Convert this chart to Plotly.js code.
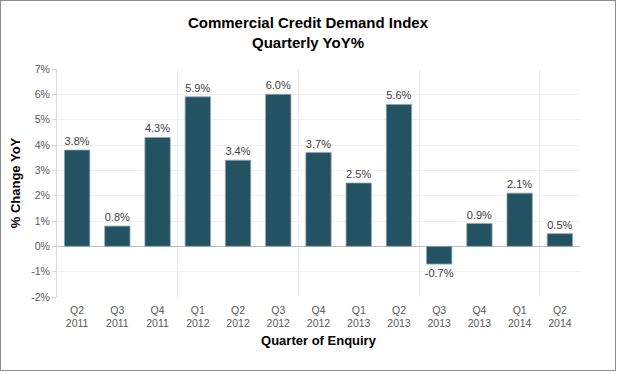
<!DOCTYPE html>
<html>
<head>
<meta charset="utf-8">
<script src="https://cdn.plot.ly/plotly-3.0.1.min.js"></script>
<style>
  html, body { margin: 0; padding: 0; background: #fff; }
  #chart { width: 614px; height: 369px; border: 1px solid #8c8c8c; }
</style>
</head>
<body>
<div id="chart"></div>
<script>
const quarters = ["Q2<br>2011","Q3<br>2011","Q4<br>2011","Q1<br>2012","Q2<br>2012","Q3<br>2012","Q4<br>2012","Q1<br>2013","Q2<br>2013","Q3<br>2013","Q4<br>2013","Q1<br>2014","Q2<br>2014"];
const yoyChange = [3.8, 0.8, 4.3, 5.9, 3.4, 6.0, 3.7, 2.5, 5.6, -0.7, 0.9, 2.1, 0.5];
const yTickVals = [-2, -1, 0, 1, 2, 3, 4, 5, 6, 7];
const yTickText = ["-2%", "-1%", "0%", "1%", "2%", "3%", "4%", "5%", "6%", "7%"];

const FONT = "Liberation Sans, Arial, sans-serif";
const xIndex = quarters.map((q, i) => i);

const trace = {
  type: "bar",
  x: xIndex,
  y: yoyChange,
  marker: { color: "#235263", line: { color: "#8fa7b0", width: 0.8 } },
  text: yoyChange.map(v => v.toFixed(1) + "%"),
  textposition: "outside",
  constraintext: "none",
  textfont: { family: FONT, size: 11, color: "#404040" },
  cliponaxis: false,
  hoverinfo: "y"
};

const layout = {
  width: 614,
  height: 369,
  margin: { l: 56, r: 35, t: 68, b: 73 },
  paper_bgcolor: "#ffffff",
  plot_bgcolor: "#ffffff",
  font: { family: FONT, color: "#595959" },
  showlegend: false,
  bargap: 0.37,
  title: {
    text: "<b>Commercial Credit Demand Index</b><br><b>Quarterly YoY%</b>",
    font: { family: FONT, size: 15, color: "#000000" },
    x: 0.5, xref: "container", xanchor: "center",
    y: 1 - 27 / 369, yref: "container", yanchor: "middle"
  },
  xaxis: {
    type: "linear",
    range: [-0.5, quarters.length - 0.5],
    tickmode: "array",
    tickvals: xIndex,
    ticktext: quarters,
    showgrid: false,
    zeroline: false,
    showline: false,
    ticks: "",
    ticklabelstandoff: 5,
    tickfont: { family: FONT, size: 10.5, color: "#595959" },
    minor: {
      tickmode: "linear",
      tick0: 2.5,
      dtick: 3,
      showgrid: true,
      gridcolor: "#ececec",
      gridwidth: 1,
      ticks: ""
    },
    title: { text: "<b>Quarter of Enquiry</b>", font: { family: FONT, size: 13, color: "#000000" }, standoff: 7 }
  },
  yaxis: {
    range: [-2, 7],
    tickvals: yTickVals,
    ticktext: yTickText,
    showgrid: true,
    gridcolor: "#f0f0f0",
    zeroline: true,
    zerolinecolor: "#bfbfbf",
    zerolinewidth: 1,
    showline: true,
    linecolor: "#d9d9d9",
    linewidth: 1,
    ticks: "outside",
    ticklen: 4,
    tickcolor: "#d9d9d9",
    tickfont: { family: FONT, size: 10.5, color: "#595959" },
    title: { text: "<b>% Change YoY</b>", font: { family: FONT, size: 13, color: "#000000" }, standoff: 7 }
  }
};

Plotly.newPlot("chart", [trace], layout, { displayModeBar: false, staticPlot: true });
</script>
</body>
</html>
